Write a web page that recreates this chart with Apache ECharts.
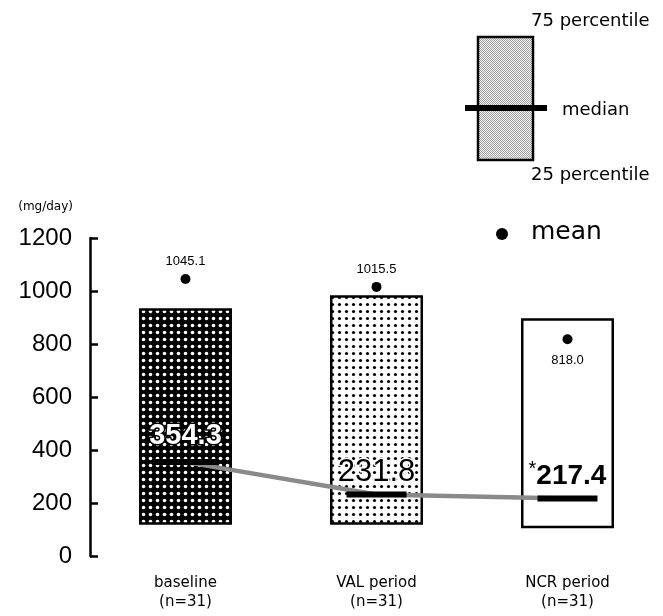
<!DOCTYPE html>
<html><head><meta charset="utf-8">
<script src="https://cdn.jsdelivr.net/npm/echarts@6/dist/echarts.min.js"></script>
<style>html,body{margin:0;padding:0;background:#fff}#c{width:663px;height:616px}</style>
</head><body><div id="c"></div>
<script>
// ---- data ----
const categories = ['baseline', 'VAL period', 'NCR period'];
const sampleSizes = ['(n=31)', '(n=31)', '(n=31)'];
const q25 = [118, 118, 105];
const q75 = [935, 984, 897];
const medians = [354.3, 231.8, 217.4];
const means = [1045.1, 1015.5, 818.0];
const yMin = 0, yMax = 1200, yStep = 200;

// ---- patterns ----
function dotPattern(bg, fg, size, r) {
  const c = document.createElement('canvas');
  c.width = size; c.height = size;
  const g = c.getContext('2d');
  g.fillStyle = bg; g.fillRect(0, 0, size, size);
  g.fillStyle = fg; g.beginPath(); g.arc(size / 2, size / 2, r, 0, Math.PI * 2); g.fill();
  return { image: c, repeat: 'repeat' };
}
function checkPattern() {
  const c = document.createElement('canvas');
  c.width = 2; c.height = 2;
  const g = c.getContext('2d');
  g.fillStyle = '#f4f4f4'; g.fillRect(0, 0, 2, 2);
  g.fillStyle = '#a0a0a0'; g.fillRect(0, 0, 1, 1); g.fillRect(1, 1, 1, 1);
  return { image: c, repeat: 'repeat' };
}
const fills = [dotPattern('#000', '#fff', 7, 1.8), dotPattern('#fff', '#000', 7, 1.6), '#fff'];

const chart = echarts.init(document.getElementById('c'), null, { renderer: 'canvas' });

const medianLabels = [
  { show: true, position: 'top', distance: 9, color: '#fff', textBorderColor: '#000', textBorderWidth: 3,
    fontFamily: 'Liberation Sans', fontWeight: 'bold', fontSize: 29 },
  { show: true, position: 'top', distance: 4, color: '#000', textBorderColor: '#fff', textBorderWidth: 3,
    fontFamily: 'Liberation Sans', fontSize: 31 },
  { show: true, position: 'top', distance: 2, formatter: p => '{s|*}{v|' + p.value.toFixed(1) + '}',
    rich: { s: { fontSize: 20, lineHeight: 20, fontFamily: 'Liberation Sans', color: '#000', verticalAlign: 'top' },
            v: { fontSize: 28, lineHeight: 34, fontFamily: 'Liberation Sans', fontWeight: 'bold', color: '#000' } } }
];
const meanLabelPos = [['top', 6], ['top', 6], ['bottom', 10]];

chart.setOption({
  animation: false,
  backgroundColor: '#fff',
  grid: { left: 90, top: 238, bottom: 60, right: -37.5 },
  xAxis: {
    type: 'category', data: categories.map((c, i) => c + '\n' + sampleSizes[i]),
    axisLine: { show: false }, axisTick: { show: false },
    axisLabel: { color: '#000', fontFamily: 'DejaVu Sans', fontSize: 15, lineHeight: 19, margin: 18 }
  },
  yAxis: {
    type: 'value', min: yMin, max: yMax, interval: yStep,
    name: '(mg/day)', nameLocation: 'end', nameGap: 31,
    nameTextStyle: { color: '#000', fontFamily: 'DejaVu Sans', fontSize: 12, align: 'right', padding: [0, 17, 0, 0], verticalAlign: 'middle' },
    axisLine: { show: true, lineStyle: { color: '#000', width: 2.5 } },
    axisTick: { show: true, inside: true, length: 8, lineStyle: { color: '#000', width: 2.5 } },
    splitLine: { show: false },
    axisLabel: { color: '#000', fontFamily: 'Liberation Sans', fontSize: 24, margin: 18, formatter: v => String(v) }
  },
  series: [
    { type: 'bar', stack: 'box', barWidth: 93, data: q25, itemStyle: { color: 'transparent' }, silent: true },
    { type: 'bar', stack: 'box', barWidth: 93,
      data: q75.map((v, i) => ({ value: v - q25[i], itemStyle: { color: fills[i] } })),
      itemStyle: { borderColor: '#000', borderWidth: 2.5, opacity: 1 } },
    { type: 'line', data: medians, z: 3, symbol: 'none',
      lineStyle: { color: '#8a8a8a', width: 4.5, opacity: 1 } },
    { type: 'scatter', z: 4, symbol: 'rect', symbolSize: [60, 6],
      data: medians.map((v, i) => ({ value: v, label: medianLabels[i] })),
      itemStyle: { color: '#000', opacity: 1 } },
    { type: 'scatter', z: 4, symbol: 'circle', symbolSize: 10,
      data: means.map((v, i) => ({ value: v, label: { show: true, position: meanLabelPos[i][0], distance: meanLabelPos[i][1] } })),
      itemStyle: { color: '#000', opacity: 1 },
      label: { color: '#000', fontFamily: 'Liberation Sans', fontSize: 13, formatter: p => p.value.toFixed(1) } }
  ],
  graphic: [
    { type: 'rect', shape: { x: 478, y: 37, width: 55, height: 123 }, style: { fill: checkPattern(), stroke: '#000', lineWidth: 2.5 } },
    { type: 'rect', shape: { x: 465, y: 105, width: 82, height: 6 }, style: { fill: '#000' } },
    { type: 'text', x: 531, y: 21, style: { text: '75 percentile', fill: '#000', font: '18px "DejaVu Sans"', verticalAlign: 'middle' } },
    { type: 'text', x: 562, y: 110, style: { text: 'median', fill: '#000', font: '18px "DejaVu Sans"', verticalAlign: 'middle' } },
    { type: 'text', x: 531, y: 175, style: { text: '25 percentile', fill: '#000', font: '18px "DejaVu Sans"', verticalAlign: 'middle' } },
    { type: 'circle', shape: { cx: 502, cy: 234, r: 6 }, style: { fill: '#000' } },
    { type: 'text', x: 531, y: 232, style: { text: 'mean', fill: '#000', font: '25px "DejaVu Sans"', verticalAlign: 'middle' } }
  ]
});
</script></body></html>
